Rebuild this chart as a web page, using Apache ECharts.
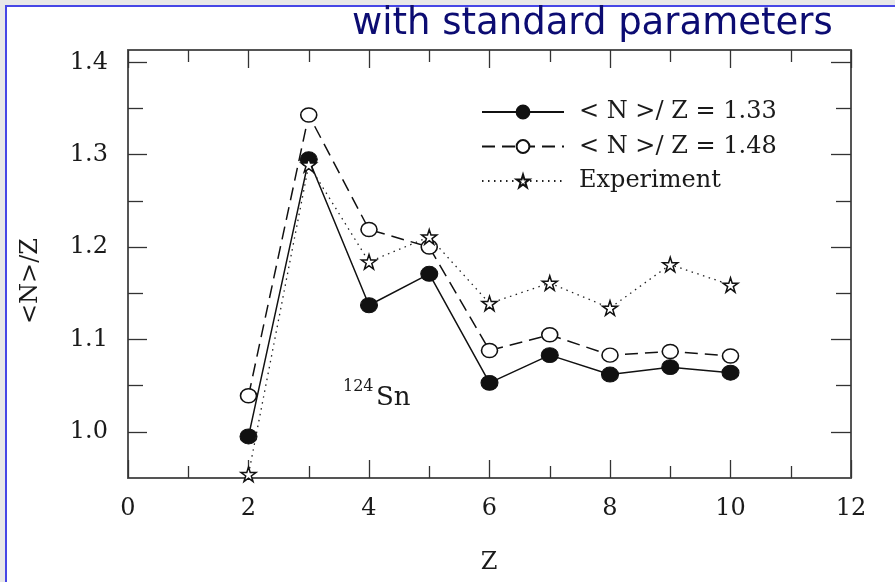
<!DOCTYPE html>
<html>
<head>
<meta charset="utf-8">
<script src="https://cdn.jsdelivr.net/npm/echarts@6/dist/echarts.min.js"></script>
<style>
html,body{margin:0;padding:0;background:#e8e8e8;}
#chart{width:895px;height:582px;}
</style>
</head>
<body>
<div id="chart"></div>
<script>
// ---- data ----
const zValues = [2, 3, 4, 5, 6, 7, 8, 9, 10];
const ratio133 = [0.995, 1.295, 1.137, 1.171, 1.053, 1.083, 1.062, 1.070, 1.064];
const ratio148 = [1.039, 1.343, 1.219, 1.200, 1.088, 1.105, 1.083, 1.087, 1.082];
const experiment = [0.954, 1.289, 1.184, 1.211, 1.139, 1.161, 1.134, 1.181, 1.159];
const seriesNames = ['< N >/ Z = 1.33', '< N >/ Z = 1.48', 'Experiment'];
const yMajorTicks = [1.0, 1.1, 1.2, 1.3, 1.4];
const yMinorTicks = [1.05, 1.15, 1.25, 1.35];
const xRange = [0, 12];
const yRange = [0.95, 1.4133];
const titleText = 'with standard parameters';
const xName = 'Z';
const yName = '<N>/Z';
const isoMass = '124';
const isoSymbol = 'Sn';

const pairs = arr => zValues.map((z, i) => [z, arr[i]]);
const SERIF = 'DejaVu Serif';
const INK = '#1a1a1a';
const FRAME = '#555';
const STAR = 'path://M50,2 L61,37 L98,37 L68,59 L79,95 L50,73 L21,95 L32,59 L2,37 L39,37 Z';

const chart = echarts.init(document.getElementById('chart'), null, {renderer: 'canvas'});

function xAxisDef(pos, labels) {
  return {
    type: 'value', position: pos, min: xRange[0], max: xRange[1], interval: 2,
    axisLine: {show: true, lineStyle: {color: FRAME, width: 2}},
    axisTick: {show: true, inside: true, length: 18, lineStyle: {color: '#333', width: 1.3}},
    minorTick: {show: true, splitNumber: 2, length: 12, lineStyle: {color: '#333', width: 1.3}},
    axisLabel: {show: labels, margin: 19, fontFamily: SERIF, fontSize: 24, color: INK},
    splitLine: {show: false}, minorSplitLine: {show: false}
  };
}
function yAxisDef(pos, ticks, len, labels, line) {
  return {
    type: 'value', position: pos, min: yRange[0], max: yRange[1],
    axisLine: {show: line, lineStyle: {color: FRAME, width: 2}},
    axisTick: {show: true, inside: true, length: len, customValues: ticks, lineStyle: {color: '#333', width: 1.3}},
    axisLabel: {show: labels, customValues: ticks, margin: 20, fontFamily: SERIF, fontSize: 24, color: INK,
      formatter: v => v.toFixed(1)},
    splitLine: {show: false}
  };
}

chart.setOption({
  backgroundColor: '#e8e8e8',
  animation: false,
  grid: {left: 128, right: 44, top: 50, bottom: 104, containLabel: false},
  xAxis: [xAxisDef('bottom', true), xAxisDef('top', false)],
  yAxis: [
    yAxisDef('left', yMajorTicks, 19, true, true),
    yAxisDef('left', yMinorTicks, 15, false, false),
    yAxisDef('right', yMajorTicks, 20, false, true),
    yAxisDef('right', yMinorTicks, 15, false, false)
  ],
  legend: {
    orient: 'vertical', left: 476, top: 95,
    itemWidth: 82, itemHeight: 16, itemGap: 10.5,
    data: seriesNames,
    textStyle: {fontFamily: SERIF, fontSize: 24, color: INK, lineHeight: 24, padding: [0, 0, 0, 10]}
  },
  graphic: [
    {type: 'rect', z: -10, silent: true, shape: {x: 6, y: 6, width: 900, height: 590},
      style: {fill: '#fff', stroke: '#4646e6', lineWidth: 2}},
    {type: 'text', left: 352, top: 6, silent: true,
      style: {text: titleText, fontFamily: 'DejaVu Sans', fontSize: 37, fill: '#0c0c72'}},
    {type: 'text', x: 31, y: 281, rotation: Math.PI / 2, silent: true,
      style: {text: yName, fontFamily: SERIF, fontSize: 24, fill: INK, align: 'center', verticalAlign: 'middle'}},
    {type: 'text', x: 489, y: 563, silent: true,
      style: {text: xName, fontFamily: SERIF, fontSize: 24, fill: INK, align: 'center', verticalAlign: 'middle'}},
    {type: 'text', x: 343, y: 387, silent: true,
      style: {text: isoMass, fontFamily: SERIF, fontSize: 16, fill: INK, align: 'left', verticalAlign: 'middle'}},
    {type: 'text', x: 376, y: 398, silent: true,
      style: {text: isoSymbol, fontFamily: SERIF, fontSize: 26, fill: INK, align: 'left', verticalAlign: 'middle'}}
  ],
  series: [
    {
      name: seriesNames[0], type: 'line', data: pairs(ratio133),
      symbol: 'circle', symbolSize: [17, 15],
      itemStyle: {color: '#111', borderColor: '#111', borderWidth: 1},
      lineStyle: {color: '#111', width: 1.5, type: 'solid'}, z: 3
    },
    {
      name: seriesNames[1], type: 'line', data: pairs(ratio148),
      symbol: 'circle', symbolSize: [16, 14],
      itemStyle: {color: '#fff', borderColor: '#111', borderWidth: 1.5},
      lineStyle: {color: '#111', width: 1.5, type: [13, 7]}, z: 4
    },
    {
      name: seriesNames[2], type: 'line', data: pairs(experiment),
      symbol: STAR, symbolSize: 15, symbolKeepAspect: true,
      itemStyle: {color: '#fff', borderColor: '#111', borderWidth: 1.5},
      lineStyle: {color: '#222', width: 1.3, type: [1.5, 4.5]}, z: 5
    }
  ]
});
</script>
</body>
</html>
